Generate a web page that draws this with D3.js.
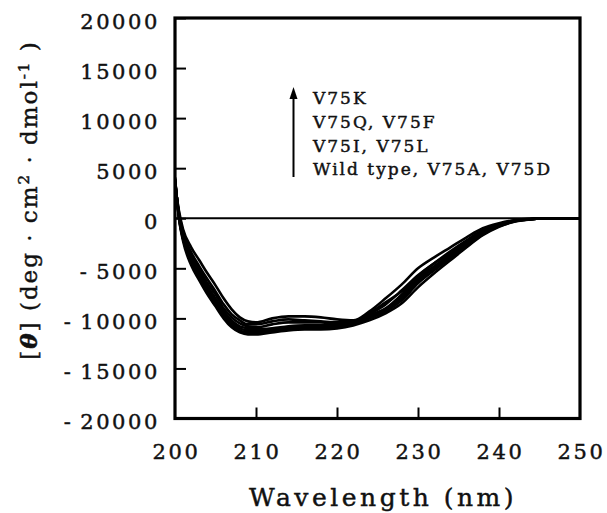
<!DOCTYPE html>
<html><head><meta charset="utf-8">
<script src="https://cdn.jsdelivr.net/npm/d3@7"></script>
<style>
html,body{margin:0;padding:0;background:#fff;}
svg text{font-family:"DejaVu Serif",serif;fill:#111;stroke:#111;stroke-width:0.45px;}
</style></head>
<body><svg id="c" width="607" height="513"></svg>
<script>
const wavelengths = [200,200.5,201,202,203,204,205,206,207,208,209,210,212,214,216,218,220,222,224,226,228,230,232,234,236,238,240,242,244,246,250];
const V75K = [3400,700,-1100,-2900,-4200,-5500,-6700,-8000,-9100,-9900,-10300,-10400,-10000,-9800,-9800,-9900,-10100,-10200,-9300,-8000,-6600,-5000,-3900,-2900,-1900,-1000,-500,-180,-50,0,0];
const V75Q = [3600,500,-1400,-3400,-4800,-6100,-7300,-8600,-9600,-10200,-10600,-10600,-10300,-10100,-10200,-10300,-10400,-10300,-9700,-9000,-7600,-5800,-4500,-3300,-2200,-1200,-600,-220,-70,0,0];
const V75F = [3700,300,-1700,-3700,-5100,-6500,-7600,-9000,-9900,-10500,-10800,-10900,-10600,-10400,-10400,-10400,-10500,-10400,-9500,-8400,-7300,-5900,-4800,-3600,-2300,-1300,-650,-250,-80,0,0];
const V75I = [3800,200,-1900,-4000,-5400,-6800,-8000,-9300,-10200,-10800,-11000,-11100,-11000,-10800,-10700,-10700,-10700,-10400,-9800,-9100,-7800,-6100,-5000,-3800,-2600,-1400,-700,-280,-90,0,0];
const V75L = [3900,100,-2000,-4200,-5700,-7000,-8200,-9500,-10400,-11000,-11200,-11200,-11100,-10900,-10800,-10800,-10800,-10500,-9600,-8600,-7200,-5700,-4500,-3500,-2400,-1300,-650,-250,-80,0,0];
const WildType = [4000,0,-2100,-4400,-5900,-7300,-8500,-9700,-10600,-11200,-11400,-11400,-11300,-11100,-11000,-11000,-10900,-10600,-10000,-9300,-8200,-6500,-5200,-4000,-2800,-1600,-800,-300,-100,0,0];
const V75A = [4100,-100,-2300,-4700,-6200,-7600,-8800,-10000,-10900,-11400,-11600,-11600,-11400,-11200,-11100,-11100,-11000,-10700,-10200,-9500,-8500,-6900,-5500,-4200,-2900,-1700,-850,-330,-100,0,0];
const V75D = [3900,0,-2000,-4300,-5800,-7200,-8500,-9800,-10700,-11300,-11500,-11500,-11300,-11000,-10900,-10900,-10800,-10500,-9900,-9100,-8000,-6300,-4900,-3700,-2600,-1400,-700,-280,-90,0,0];
const seriesList = [V75K,V75Q,V75F,V75I,V75L,WildType,V75A,V75D];
const xTicks = [200,210,220,230,240,250];
const yTicks = [20000,15000,10000,5000,0,-5000,-10000,-15000,-20000];
const legendLines = ["V75K","V75Q, V75F","V75I, V75L","Wild type, V75A, V75D"];

const svg = d3.select("#c");
const L=175, R=580, T=18, B=418.5;
const x = d3.scaleLinear().domain([200,250]).range([L,R]);
const y = d3.scaleLinear().domain([-20000,20000]).range([B,T]);

svg.append("defs").append("clipPath").attr("id","clip")
  .append("rect").attr("x",L).attr("y",T).attr("width",R-L).attr("height",B-T);

// zero line
svg.append("line").attr("x1",L).attr("x2",R).attr("y1",y(0)).attr("y2",y(0))
  .attr("stroke","#000").attr("stroke-width",1.8);

// curves
const line = d3.line().x((d,i)=>x(wavelengths[i])).y(d=>y(d)).curve(d3.curveMonotoneX);
svg.append("g").attr("clip-path","url(#clip)").selectAll("path").data(seriesList).join("path")
  .attr("d",line).attr("fill","none").attr("stroke","#000").attr("stroke-width",2.6);

// axes
const yAxis = d3.axisLeft(y).tickValues(yTicks).tickSizeInner(-11).tickSizeOuter(0).tickPadding(0).tickFormat(()=>"");
const gy = svg.append("g").attr("transform",`translate(${L},0)`).call(yAxis);
gy.select(".domain").remove();
gy.selectAll(".tick line").attr("stroke","#000").attr("stroke-width",2);
const xAxis = d3.axisBottom(x).tickValues(xTicks.slice(1,-1)).tickSizeInner(-11).tickSizeOuter(0).tickFormat(()=>"");
const gx = svg.append("g").attr("transform",`translate(0,${B})`).call(xAxis);
gx.select(".domain").remove();
gx.selectAll(".tick line").attr("stroke","#000").attr("stroke-width",2);

// frame
svg.append("rect").attr("x",L).attr("y",T).attr("width",R-L).attr("height",B-T)
  .attr("fill","none").attr("stroke","#000").attr("stroke-width",3.2);

// tick labels
svg.append("g").selectAll("text").data(yTicks).join("text")
  .attr("x",160).attr("y",d=>y(d)+10.5).attr("text-anchor","end")
  .style("font-size","21px").style("letter-spacing","2.6px")
  .text(d=> d<0 ? "-\u2009"+Math.abs(d) : String(d));
svg.append("g").selectAll("text").data(xTicks).join("text")
  .attr("x",d=>x(d)+1.5).attr("y",459).attr("text-anchor","middle")
  .style("font-size","21px").style("letter-spacing","2.6px")
  .text(d=>d);

// axis titles
svg.append("text").attr("x",383).attr("y",506).attr("text-anchor","middle")
  .style("font-size","25px").style("letter-spacing","3.5px").text("Wavelength (nm)");
const yt = svg.append("text").attr("transform","translate(37,200) rotate(-90)").attr("text-anchor","middle")
  .style("font-size","23px").style("letter-spacing","2px");
yt.append("tspan").text("[");
yt.append("tspan").style("font-style","italic").style("font-weight","bold").text("θ");
yt.append("tspan").text("] (deg · cm");
yt.append("tspan").attr("dy",-8).style("font-size","15px").text("2");
yt.append("tspan").attr("dy",8).text(" · dmol");
yt.append("tspan").attr("dy",-8).style("font-size","15px").text("-1");
yt.append("tspan").attr("dy",8).text(" )");

// legend arrow
const ax = 293.5;
svg.append("line").attr("x1",ax).attr("x2",ax).attr("y1",177).attr("y2",96)
  .attr("stroke","#000").attr("stroke-width",2);
svg.append("path").attr("d",`M${ax-4},${99} L${ax},${87} L${ax+4},${99} Z`).attr("fill","#000");
svg.append("g").selectAll("text").data(legendLines).join("text")
  .attr("x",313).attr("y",(d,i)=>[104,128,152,175][i])
  .style("font-size","17px").style("letter-spacing","2px")
  .text(d=>d);
</script></body></html>
